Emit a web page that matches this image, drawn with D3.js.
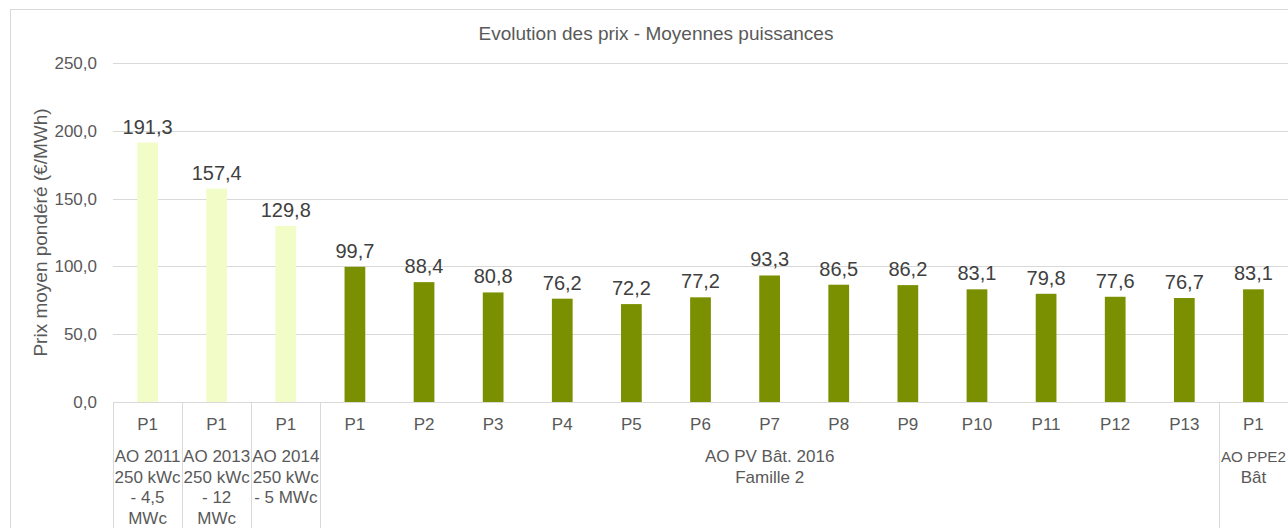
<!DOCTYPE html>
<html>
<head>
<meta charset="utf-8">
<script src="https://cdn.jsdelivr.net/npm/d3@7"></script>
<style>
    body { margin: 0; background: #fff; }
    text { font-family: 'Liberation Sans', Arial, sans-serif; }
</style>
</head>
<body>
<script>
// chart data
const periods = ['P1', 'P1', 'P1', 'P1', 'P2', 'P3', 'P4', 'P5', 'P6', 'P7', 'P8', 'P9', 'P10', 'P11', 'P12', 'P13', 'P1'];
const prices = [191.3, 157.4, 129.8, 99.7, 88.4, 80.8, 76.2, 72.2, 77.2, 93.3, 86.5, 86.2, 83.1, 79.8, 77.6, 76.7, 83.1];
const groupNames = [
    ['AO 2011', '250 kWc', '- 4,5', 'MWc'],
    ['AO 2013', '250 kWc', '- 12', 'MWc'],
    ['AO 2014', '250 kWc', '- 5 MWc'],
    ['AO PV Bât. 2016', 'Famille 2'],
    ['AO PPE2', 'Bât']
];
const groupSizes = [1, 1, 1, 13, 1];
const barColors = ['#f2fcc6', '#f2fcc6', '#f2fcc6', '#7a9000', '#7a9000'];
const yTicks = [0, 50, 100, 150, 200, 250];

const width = 1288, height = 528;
const plotLeft = 113, plotRight = 1288, plotTop = 63, plotBottom = 402;

const svg = d3.select('body')
    .append('svg')
    .attr('width', width)
    .attr('height', height);

// outer chart border (cropped on the right like the original)
svg.append('rect')
    .attr('x', 10.5)
    .attr('y', 9.5)
    .attr('width', width + 20)
    .attr('height', height + 20)
    .attr('fill', 'none')
    .attr('stroke', '#d9d9d9');

const fmt = d3.formatLocale({decimal: ',', thousands: ' ', grouping: [3], currency: ['', '€']}).format('.1f');

// group index for each bar
const groupOf = [];
groupSizes.forEach((n, g) => { for (let i = 0; i < n; i++) groupOf.push(g); });

const x = d3.scaleBand()
    .domain(d3.range(prices.length))
    .range([plotLeft, plotRight]);

const y = d3.scaleLinear()
    .domain([0, 250])
    .range([plotBottom, plotTop]);

// gridlines
svg.append('g')
    .selectAll('line')
    .data(yTicks)
    .enter()
    .append('line')
    .attr('x1', plotLeft)
    .attr('x2', plotRight)
    .attr('y1', d => Math.round(y(d)) + 0.5)
    .attr('y2', d => Math.round(y(d)) + 0.5)
    .attr('stroke', '#d9d9d9')
    .attr('stroke-width', 1);

// y tick labels
svg.append('g')
    .selectAll('text')
    .data(yTicks)
    .enter()
    .append('text')
    .attr('x', 97)
    .attr('y', d => y(d))
    .attr('dy', '0.35em')
    .attr('text-anchor', 'end')
    .attr('font-size', 17)
    .attr('fill', '#595959')
    .text(d => fmt(d));

// y axis title
svg.append('text')
    .attr('transform', 'translate(47,' + ((plotTop + plotBottom) / 2) + ') rotate(-90)')
    .attr('text-anchor', 'middle')
    .attr('font-size', 19)
    .attr('fill', '#595959')
    .text('Prix moyen pondéré (€/MWh)');

// chart title
svg.append('text')
    .attr('x', 656)
    .attr('y', 40)
    .attr('text-anchor', 'middle')
    .attr('font-size', 19)
    .attr('fill', '#595959')
    .text('Evolution des prix - Moyennes puissances');

const barW = x.bandwidth() * 0.3;

// bars
svg.append('g')
    .selectAll('rect')
    .data(prices)
    .enter()
    .append('rect')
    .attr('x', (d, i) => x(i) + (x.bandwidth() - barW) / 2)
    .attr('y', d => y(d))
    .attr('width', barW)
    .attr('height', d => y(0) - y(d))
    .attr('fill', (d, i) => barColors[groupOf[i]]);

// value labels
svg.append('g')
    .selectAll('text')
    .data(prices)
    .enter()
    .append('text')
    .attr('x', (d, i) => x(i) + x.bandwidth() / 2)
    .attr('y', d => y(d) - 9)
    .attr('text-anchor', 'middle')
    .attr('font-size', 20)
    .attr('fill', '#404040')
    .text(d => fmt(d));

// category axis line
svg.append('line')
    .attr('x1', plotLeft)
    .attr('x2', plotRight)
    .attr('y1', plotBottom + 0.5)
    .attr('y2', plotBottom + 0.5)
    .attr('stroke', '#d9d9d9');

// period labels
svg.append('g')
    .selectAll('text')
    .data(periods)
    .enter()
    .append('text')
    .attr('x', (d, i) => x(i) + x.bandwidth() / 2)
    .attr('y', 430)
    .attr('text-anchor', 'middle')
    .attr('font-size', 17)
    .attr('fill', '#595959')
    .text(d => d);

// group separators and labels
const starts = groupSizes.map((n, g) => d3.sum(groupSizes.slice(0, g)));
const bounds = starts.concat([prices.length]);
const edge = i => i < prices.length ? x(i) : plotRight;

svg.append('g')
    .selectAll('line')
    .data(bounds)
    .enter()
    .append('line')
    .attr('x1', i => Math.round(edge(i)) + 0.5)
    .attr('x2', i => Math.round(edge(i)) + 0.5)
    .attr('y1', plotBottom)
    .attr('y2', height)
    .attr('stroke', '#d9d9d9');

const groupLabel = svg.append('g')
    .selectAll('text')
    .data(groupNames)
    .enter()
    .append('text')
    .attr('text-anchor', 'middle')
    .attr('font-size', 17)
    .attr('fill', '#595959');

groupLabel.selectAll('tspan')
    .data((lines, g) => lines.map(l => ({l, g})))
    .enter()
    .append('tspan')
    .attr('x', d => (edge(starts[d.g]) + edge(starts[d.g] + groupSizes[d.g])) / 2)
    .attr('y', (d, i) => 462 + i * 20.5)
    .text(d => d.l);

// the last group is cut by the window edge: fit its label into what is visible
groupLabel.filter((d, g) => g === groupNames.length - 1)
    .selectAll('tspan')
    .each(function(d) {
        const x0 = edge(starts[d.g]) + 2;
        const x1 = width - 2;
        const w = this.getComputedTextLength();
        const t = d3.select(this).attr('x', (x0 + x1) / 2);
        if (w > x1 - x0) t.attr('font-size', 17 * (x1 - x0) / w);
    });
</script>
</body>
</html>
